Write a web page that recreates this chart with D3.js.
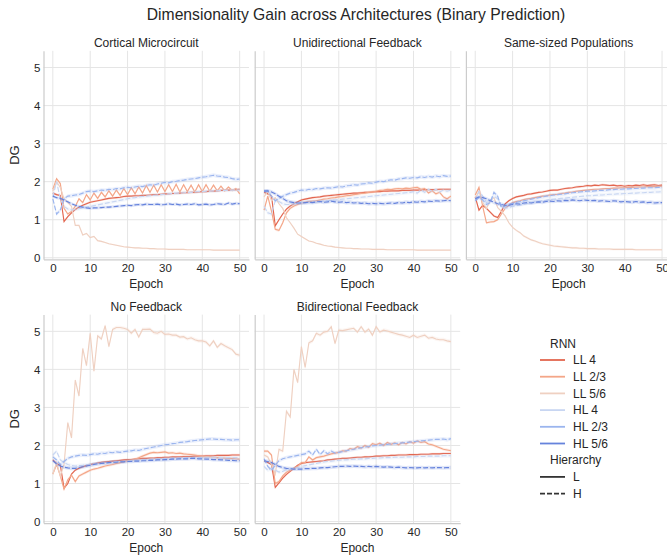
<!DOCTYPE html>
<html>
<head>
<meta charset="utf-8">
<script src="https://d3js.org/d3.v7.min.js"></script>
<style>
  body { margin: 0; background: #fff; }
  text { font-family: "Liberation Sans", Arial, sans-serif; fill: #262626; }
</style>
</head>
<body>
<div id="chart-area"></div>
<script>
// categories
var panelTitles = ["Cortical Microcircuit", "Unidirectional Feedback", "Same-sized Populations",
                   "No Feedback", "Bidirectional Feedback"];
var rnnNames = ["LL 4", "LL 2/3", "LL 5/6", "HL 4", "HL 2/3", "HL 5/6"];
var rnnHierarchy = ["L", "L", "L", "H", "H", "H"];
var hierarchyNames = ["L", "H"];
var epochs = d3.range(0, 51);
var xTicks = [0, 10, 20, 30, 40, 50];
var yTicks = [0, 1, 2, 3, 4, 5];

// Cortical Microcircuit
var cmLL4 = [1.70,1.66,1.64,0.95,1.08,1.18,1.27,1.33,1.38,1.42,1.46,1.48,1.50,1.52,1.54,1.56,1.57,1.58,1.59,1.61,1.62,1.62,1.63,1.63,1.64,1.64,1.65,1.66,1.66,1.67,1.68,1.68,1.69,1.69,1.70,1.71,1.71,1.72,1.72,1.73,1.74,1.74,1.75,1.75,1.76,1.77,1.77,1.78,1.78,1.79,1.80];
var cmLL23 = [1.80,2.08,1.95,1.30,1.15,1.22,1.35,1.55,1.45,1.66,1.52,1.70,1.56,1.72,1.60,1.76,1.62,1.78,1.64,1.82,1.66,1.84,1.68,1.86,1.70,1.90,1.72,1.91,1.73,1.92,1.74,1.92,1.74,1.93,1.73,1.92,1.74,1.91,1.73,1.92,1.74,1.92,1.75,1.91,1.76,1.88,1.76,1.86,1.77,1.82,1.68];
var cmLL56 = [1.75,2.00,1.85,1.55,1.45,1.35,0.85,0.85,0.60,0.64,0.53,0.56,0.45,0.43,0.40,0.37,0.35,0.33,0.31,0.29,0.28,0.27,0.26,0.26,0.25,0.25,0.24,0.24,0.23,0.23,0.23,0.22,0.22,0.22,0.22,0.22,0.21,0.21,0.21,0.21,0.21,0.21,0.21,0.20,0.20,0.20,0.20,0.20,0.20,0.20,0.20];
var cmHL4 = [1.60,2.00,1.55,1.35,1.28,1.26,1.27,1.29,1.31,1.33,1.35,1.37,1.39,1.41,1.43,1.45,1.47,1.49,1.51,1.53,1.55,1.57,1.58,1.60,1.61,1.62,1.63,1.64,1.65,1.66,1.67,1.68,1.69,1.70,1.70,1.71,1.72,1.72,1.73,1.74,1.74,1.75,1.75,1.76,1.76,1.77,1.77,1.77,1.78,1.78,1.78];
var cmHL23 = [1.55,1.15,1.25,1.55,1.62,1.63,1.65,1.66,1.70,1.74,1.75,1.74,1.76,1.78,1.77,1.80,1.79,1.82,1.81,1.84,1.85,1.84,1.86,1.88,1.87,1.90,1.92,1.91,1.94,1.96,1.98,1.97,2.00,2.01,2.03,2.04,2.06,2.07,2.08,2.10,2.12,2.13,2.15,2.17,2.15,2.14,2.12,2.11,2.08,2.06,2.07];
var cmHL56 = [1.62,1.58,1.56,1.52,1.47,1.42,1.38,1.35,1.33,1.31,1.30,1.31,1.31,1.32,1.33,1.33,1.34,1.35,1.36,1.37,1.38,1.37,1.39,1.40,1.39,1.41,1.40,1.40,1.41,1.39,1.40,1.42,1.40,1.41,1.39,1.40,1.41,1.40,1.42,1.39,1.40,1.41,1.39,1.40,1.42,1.41,1.40,1.44,1.41,1.43,1.42];

// Unidirectional Feedback
var ufLL4 = [1.72,1.68,1.62,0.84,1.00,1.15,1.28,1.36,1.42,1.47,1.52,1.54,1.56,1.58,1.59,1.60,1.62,1.63,1.64,1.65,1.66,1.67,1.68,1.69,1.70,1.70,1.71,1.72,1.72,1.73,1.74,1.74,1.75,1.75,1.76,1.76,1.76,1.77,1.77,1.77,1.78,1.78,1.78,1.79,1.79,1.79,1.79,1.80,1.80,1.80,1.80];
var ufLL23 = [1.25,1.62,1.22,0.75,0.72,0.92,1.18,1.30,1.36,1.40,1.44,1.46,1.48,1.49,1.50,1.52,1.54,1.55,1.57,1.58,1.60,1.61,1.63,1.64,1.66,1.67,1.69,1.70,1.72,1.73,1.75,1.77,1.78,1.80,1.79,1.81,1.82,1.81,1.83,1.82,1.84,1.85,1.80,1.82,1.70,1.76,1.68,1.72,1.60,1.55,1.62];
var ufLL56 = [1.60,1.75,1.50,1.58,1.42,1.30,1.05,0.92,0.78,0.62,0.56,0.50,0.44,0.42,0.38,0.36,0.33,0.31,0.30,0.28,0.27,0.26,0.25,0.25,0.24,0.24,0.23,0.23,0.23,0.22,0.22,0.22,0.22,0.21,0.21,0.21,0.21,0.21,0.21,0.21,0.21,0.20,0.20,0.20,0.20,0.20,0.20,0.20,0.20,0.20,0.20];
var ufHL4 = [1.35,1.18,1.15,1.50,1.48,1.42,1.40,1.40,1.42,1.43,1.45,1.44,1.46,1.47,1.46,1.48,1.49,1.50,1.51,1.52,1.53,1.54,1.55,1.56,1.57,1.58,1.59,1.60,1.61,1.62,1.63,1.64,1.65,1.66,1.67,1.68,1.69,1.70,1.71,1.72,1.74,1.70,1.78,1.72,1.80,1.74,1.80,1.73,1.78,1.75,1.78];
var ufHL23 = [1.75,1.76,1.62,1.50,1.56,1.62,1.66,1.70,1.72,1.75,1.78,1.77,1.80,1.79,1.82,1.81,1.83,1.84,1.83,1.85,1.87,1.86,1.89,1.90,1.92,1.91,1.94,1.95,1.97,1.96,1.99,2.01,2.00,2.03,2.05,2.04,2.07,2.08,2.10,2.09,2.11,2.10,2.13,2.11,2.14,2.12,2.15,2.13,2.16,2.14,2.15];
var ufHL56 = [1.75,1.76,1.73,1.68,1.62,1.56,1.50,1.47,1.45,1.44,1.44,1.45,1.46,1.45,1.47,1.48,1.46,1.47,1.49,1.47,1.46,1.47,1.45,1.46,1.44,1.45,1.43,1.44,1.42,1.43,1.42,1.43,1.42,1.43,1.44,1.43,1.45,1.44,1.46,1.45,1.47,1.46,1.48,1.47,1.49,1.48,1.50,1.49,1.50,1.51,1.50];

// Same-sized Populations
var ssLL4 = [1.60,1.25,1.38,1.30,1.20,1.10,1.06,1.22,1.42,1.50,1.56,1.60,1.62,1.64,1.67,1.68,1.70,1.72,1.73,1.75,1.77,1.78,1.78,1.80,1.82,1.83,1.84,1.86,1.87,1.88,1.90,1.89,1.91,1.90,1.92,1.91,1.90,1.91,1.89,1.90,1.88,1.90,1.89,1.91,1.90,1.92,1.90,1.91,1.92,1.90,1.91];
var ssLL23 = [1.65,1.85,1.35,0.92,0.94,0.95,1.00,1.15,1.30,1.38,1.45,1.48,1.50,1.53,1.55,1.56,1.58,1.60,1.62,1.63,1.65,1.66,1.67,1.69,1.70,1.72,1.73,1.75,1.76,1.77,1.78,1.79,1.80,1.80,1.81,1.82,1.82,1.83,1.83,1.84,1.84,1.85,1.85,1.86,1.86,1.86,1.87,1.87,1.87,1.88,1.88];
var ssLL56 = [1.55,1.75,1.45,1.30,1.50,1.58,1.32,1.22,1.10,0.92,0.80,0.72,0.66,0.57,0.52,0.47,0.44,0.40,0.37,0.35,0.33,0.31,0.30,0.29,0.28,0.27,0.26,0.26,0.25,0.25,0.24,0.24,0.24,0.23,0.23,0.23,0.23,0.22,0.22,0.22,0.22,0.22,0.22,0.21,0.21,0.21,0.21,0.21,0.21,0.21,0.21];
var ssHL4 = [1.50,1.75,1.62,1.45,1.50,1.62,1.55,1.36,1.30,1.32,1.35,1.37,1.39,1.41,1.43,1.45,1.47,1.48,1.50,1.51,1.53,1.54,1.55,1.56,1.57,1.58,1.59,1.60,1.61,1.62,1.63,1.63,1.64,1.65,1.65,1.66,1.67,1.67,1.68,1.68,1.69,1.69,1.70,1.70,1.71,1.71,1.72,1.72,1.73,1.73,1.74];
var ssHL23 = [1.50,1.58,1.52,1.40,1.45,1.72,1.62,1.32,1.36,1.40,1.43,1.46,1.48,1.50,1.52,1.54,1.56,1.58,1.60,1.62,1.63,1.65,1.66,1.67,1.68,1.70,1.71,1.72,1.73,1.74,1.75,1.75,1.76,1.77,1.77,1.78,1.79,1.79,1.80,1.80,1.81,1.81,1.82,1.82,1.83,1.83,1.84,1.84,1.84,1.85,1.85];
var ssHL56 = [1.55,1.60,1.58,1.55,1.50,1.46,1.42,1.40,1.38,1.38,1.40,1.42,1.41,1.44,1.45,1.44,1.46,1.47,1.46,1.48,1.49,1.48,1.50,1.49,1.51,1.50,1.52,1.51,1.50,1.52,1.51,1.50,1.51,1.49,1.50,1.49,1.48,1.50,1.49,1.47,1.48,1.47,1.46,1.48,1.46,1.47,1.45,1.46,1.44,1.45,1.45];

// No Feedback
var nfLL4 = [1.62,1.52,1.48,0.88,1.00,1.25,1.35,1.40,1.44,1.47,1.50,1.52,1.54,1.56,1.57,1.58,1.59,1.60,1.61,1.62,1.63,1.63,1.64,1.65,1.66,1.66,1.67,1.67,1.68,1.68,1.69,1.69,1.70,1.70,1.70,1.71,1.71,1.71,1.72,1.72,1.72,1.73,1.73,1.73,1.74,1.74,1.74,1.74,1.75,1.75,1.75];
var nfLL23 = [1.25,1.50,1.20,0.85,1.10,1.22,1.05,1.20,1.25,1.30,1.35,1.38,1.40,1.43,1.46,1.48,1.50,1.53,1.55,1.57,1.60,1.62,1.64,1.68,1.72,1.76,1.80,1.82,1.81,1.82,1.83,1.80,1.81,1.79,1.80,1.78,1.77,1.76,1.75,1.73,1.72,1.70,1.71,1.69,1.68,1.68,1.67,1.66,1.66,1.65,1.64];
var nfLL56 = [1.25,1.55,1.20,1.50,2.60,2.20,3.72,3.30,4.55,4.10,4.95,3.95,4.88,4.80,5.15,4.60,5.05,5.10,5.10,5.08,5.05,4.95,5.05,4.85,5.05,5.05,5.06,4.97,4.95,5.00,4.92,4.93,4.90,4.90,4.85,4.86,4.80,4.83,4.78,4.75,4.75,4.72,4.62,4.75,4.58,4.68,4.62,4.57,4.52,4.40,4.37];
var nfHL4 = [1.75,1.85,1.62,1.55,1.50,1.47,1.46,1.47,1.48,1.49,1.50,1.51,1.52,1.53,1.54,1.55,1.56,1.57,1.58,1.58,1.59,1.60,1.61,1.61,1.62,1.63,1.63,1.64,1.64,1.65,1.65,1.66,1.66,1.67,1.67,1.67,1.68,1.68,1.68,1.68,1.69,1.69,1.69,1.69,1.69,1.68,1.68,1.68,1.68,1.68,1.68];
var nfHL23 = [1.70,1.62,1.50,1.58,1.66,1.70,1.72,1.74,1.75,1.74,1.76,1.78,1.77,1.80,1.79,1.82,1.81,1.83,1.82,1.84,1.85,1.86,1.88,1.87,1.90,1.92,1.94,1.96,1.98,2.00,2.02,2.03,2.05,2.06,2.08,2.09,2.10,2.12,2.13,2.14,2.15,2.16,2.17,2.17,2.16,2.16,2.15,2.15,2.14,2.15,2.15];
var nfHL56 = [1.60,1.52,1.46,1.43,1.41,1.40,1.40,1.42,1.44,1.46,1.48,1.50,1.52,1.53,1.54,1.55,1.56,1.56,1.57,1.57,1.58,1.58,1.59,1.59,1.60,1.60,1.61,1.61,1.62,1.62,1.63,1.63,1.64,1.64,1.65,1.65,1.65,1.66,1.66,1.65,1.65,1.64,1.64,1.63,1.63,1.62,1.62,1.61,1.61,1.60,1.60];

// Bidirectional Feedback
var bfLL4 = [1.60,1.55,1.50,0.90,1.02,1.14,1.24,1.32,1.40,1.48,1.53,1.55,1.56,1.57,1.58,1.59,1.60,1.62,1.63,1.64,1.65,1.66,1.66,1.67,1.68,1.69,1.69,1.70,1.70,1.71,1.72,1.72,1.73,1.73,1.74,1.74,1.75,1.75,1.75,1.76,1.76,1.76,1.77,1.77,1.77,1.78,1.78,1.78,1.79,1.79,1.79];
var bfLL23 = [1.85,1.85,1.75,1.00,1.05,1.20,1.30,1.35,1.40,1.45,1.55,1.55,1.70,1.62,1.68,1.70,1.72,1.75,1.78,1.80,1.82,1.86,1.85,1.92,1.90,1.97,1.93,2.00,1.95,2.05,2.02,2.06,2.00,2.08,2.03,2.07,2.02,2.08,2.04,2.10,2.06,2.12,2.08,2.10,2.04,2.02,1.98,1.94,1.90,1.88,1.86];
var bfLL56 = [1.75,1.70,1.50,1.25,1.90,1.85,2.90,2.75,4.00,3.65,4.60,4.05,4.70,4.75,4.95,4.90,4.98,5.00,5.12,4.68,5.03,5.02,5.04,5.06,5.08,4.98,5.12,4.98,5.06,4.90,5.12,4.98,5.03,5.01,4.98,4.95,4.92,4.90,4.87,4.84,4.90,4.84,4.87,4.90,4.82,4.84,4.80,4.78,4.78,4.75,4.73];
var bfHL4 = [1.45,1.35,1.40,1.35,1.30,1.32,1.36,1.38,1.40,1.42,1.45,1.47,1.49,1.51,1.53,1.55,1.57,1.58,1.59,1.60,1.61,1.62,1.62,1.63,1.64,1.64,1.65,1.65,1.66,1.66,1.67,1.67,1.68,1.68,1.68,1.69,1.69,1.69,1.70,1.70,1.70,1.71,1.71,1.71,1.72,1.72,1.72,1.72,1.73,1.73,1.73];
var bfHL23 = [1.65,1.45,1.35,1.48,1.60,1.65,1.68,1.70,1.72,1.74,1.76,1.78,1.85,1.75,1.90,1.76,1.86,1.78,1.85,1.80,1.82,1.84,1.86,1.88,1.90,1.92,1.94,1.96,1.97,1.99,2.00,2.01,2.02,2.03,2.04,2.05,2.06,2.07,2.08,2.09,2.10,2.11,2.12,2.13,2.14,2.15,2.16,2.16,2.17,2.15,2.18];
var bfHL56 = [1.60,1.58,1.55,1.50,1.45,1.42,1.40,1.39,1.38,1.38,1.38,1.39,1.39,1.40,1.40,1.41,1.42,1.42,1.43,1.44,1.45,1.45,1.46,1.45,1.46,1.45,1.45,1.44,1.45,1.44,1.45,1.44,1.43,1.44,1.43,1.42,1.43,1.42,1.41,1.42,1.41,1.41,1.42,1.41,1.42,1.41,1.42,1.42,1.41,1.42,1.42];

// half width of the error band, per RNN, per panel
var cmBand = [0.03, 0.03, 0.02, 0.05, 0.05, 0.04];
var ufBand = [0.03, 0.04, 0.02, 0.05, 0.05, 0.05];
var ssBand = [0.03, 0.03, 0.03, 0.05, 0.05, 0.05];
var nfBand = [0.03, 0.04, 0.05, 0.05, 0.05, 0.05];
var bfBand = [0.03, 0.04, 0.05, 0.05, 0.05, 0.05];

var panelSeries = [
  [cmLL4, cmLL23, cmLL56, cmHL4, cmHL23, cmHL56],
  [ufLL4, ufLL23, ufLL56, ufHL4, ufHL23, ufHL56],
  [ssLL4, ssLL23, ssLL56, ssHL4, ssHL23, ssHL56],
  [nfLL4, nfLL23, nfLL56, nfHL4, nfHL23, nfHL56],
  [bfLL4, bfLL23, bfLL56, bfHL4, bfHL23, bfHL56]
];
var panelBands = [cmBand, ufBand, ssBand, nfBand, bfBand];

var width = 667, height = 560;
var panelW = 205.5, panelH = 208.5;
var colLeft = [43.5, 254.7, 465.9];
var rowTop = [50.8, 314.6];
var fontStack = "'Liberation Sans', Arial, sans-serif";

var color = d3.scaleOrdinal()
  .domain(rnnNames)
  .range(["#e3664f", "#f4a688", "#efd0c1", "#c8d6f2", "#9bb5ee", "#6683dc"]);

var dash = d3.scaleOrdinal()
  .domain(hierarchyNames)
  .range(["none", "5,2"]);

var svg = d3.select("#chart-area")
  .append("svg")
  .attr("width", width)
  .attr("height", height);

// suptitle
svg.append("text")
  .attr("x", 356)
  .attr("y", 20)
  .attr("text-anchor", "middle")
  .style("font-size", "15.7px")
  .text("Dimensionality Gain across Architectures (Binary Prediction)");

var x = d3.scaleLinear().domain([-2.5, 52.5]).range([0, panelW]);
var y = d3.scaleLinear().domain([-0.04, 5.44]).range([panelH, 0]);

panelTitles.forEach(function (title, p) {
  var col = p % 3, row = Math.floor(p / 3);
  var g = svg.append("g")
    .attr("transform", "translate(" + colLeft[col] + "," + rowTop[row] + ")");

  // grid
  g.append("g").selectAll("line")
    .data(xTicks).enter().append("line")
    .attr("x1", function (d) { return x(d); })
    .attr("x2", function (d) { return x(d); })
    .attr("y1", 0).attr("y2", panelH)
    .attr("stroke", "#e5e5e5").attr("stroke-width", 1);
  g.append("g").selectAll("line")
    .data(yTicks).enter().append("line")
    .attr("y1", function (d) { return y(d); })
    .attr("y2", function (d) { return y(d); })
    .attr("x1", 0).attr("x2", panelW)
    .attr("stroke", "#e5e5e5").attr("stroke-width", 1);

  // x axis
  var xAxis = g.append("g")
    .attr("transform", "translate(0," + panelH + ")")
    .call(d3.axisBottom(x).tickValues(xTicks).tickSize(0).tickPadding(5));
  xAxis.select(".domain").attr("stroke", "#cccccc").attr("stroke-width", 1.2);
  xAxis.selectAll("text")
    .style("font-size", "11.5px")
    .style("font-family", fontStack)
    .attr("fill", "#262626");

  // y axis, labels only on first column
  var yAxis = g.append("g")
    .call(d3.axisLeft(y).tickValues(yTicks).tickSize(0).tickPadding(3)
      .tickFormat(col === 0 ? d3.format("d") : function () { return ""; }));
  yAxis.select(".domain").attr("stroke", "#cccccc").attr("stroke-width", 1.2);
  yAxis.selectAll("text")
    .style("font-size", "11.5px")
    .style("font-family", fontStack)
    .attr("fill", "#262626");

  // panel title
  g.append("text")
    .attr("x", panelW / 2)
    .attr("y", -4)
    .attr("text-anchor", "middle")
    .style("font-size", "12px")
    .text(title);

  g.append("text")
    .attr("x", panelW / 2)
    .attr("y", panelH + 28.5)
    .attr("text-anchor", "middle")
    .style("font-size", "12px")
    .text("Epoch");

  if (col === 0) {
    g.append("text")
      .attr("transform", "translate(" + (19 - colLeft[0]) + "," + (panelH / 2) + ") rotate(-90)")
      .attr("text-anchor", "middle")
      .style("font-size", "13px")
      .text("DG");
  }

  // lines with error bands
  panelSeries[p].forEach(function (vals, s) {
    var half = panelBands[p][s];
    var area = d3.area()
      .x(function (d, i) { return x(epochs[i]); })
      .y0(function (d) { return y(d - half); })
      .y1(function (d) { return y(d + half); });
    var line = d3.line()
      .x(function (d, i) { return x(epochs[i]); })
      .y(function (d) { return y(d); });

    g.append("path")
      .datum(vals)
      .attr("d", area)
      .attr("fill", color(rnnNames[s]))
      .attr("fill-opacity", 0.2)
      .attr("stroke", "none");
    g.append("path")
      .datum(vals)
      .attr("d", line)
      .attr("fill", "none")
      .attr("stroke", color(rnnNames[s]))
      .attr("stroke-width", 1.15)
      .attr("stroke-dasharray", dash(rnnHierarchy[s]));
  });
});

// legend
var legend = svg.append("g").attr("class", "legend");
var legendRows = [{ label: "RNN", title: true }]
  .concat(rnnNames.map(function (n) { return { label: n, stroke: color(n), dash: "none" }; }))
  .concat([{ label: "Hierarchy", title: true }])
  .concat(hierarchyNames.map(function (h) { return { label: h, stroke: "#333333", dash: dash(h) }; }));

legendRows.forEach(function (r, i) {
  var cy = 343.3 + i * 16.7;
  if (r.title) {
    legend.append("text")
      .attr("x", 550).attr("y", cy).attr("dy", "0.35em")
      .style("font-size", "12px")
      .text(r.label);
  } else {
    legend.append("line")
      .attr("x1", 540).attr("x2", 565)
      .attr("y1", cy).attr("y2", cy)
      .attr("stroke", r.stroke)
      .attr("stroke-width", 1.8)
      .attr("stroke-dasharray", r.dash);
    legend.append("text")
      .attr("x", 573).attr("y", cy).attr("dy", "0.35em")
      .style("font-size", "12px")
      .text(r.label);
  }
});
</script>
</body>
</html>
